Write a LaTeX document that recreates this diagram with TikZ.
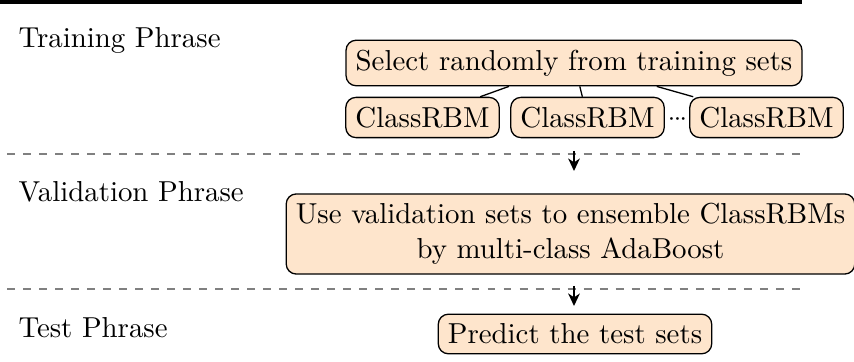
\documentclass[tikz,border=0pt]{standalone}
\usetikzlibrary{arrows.meta}
\definecolor{boxfill}{RGB}{254,229,204}
\tikzset{
  stagebox/.style={draw=black, fill=boxfill, rounded corners=3.5pt, line width=0.45pt, inner sep=3.333pt, font=\fontsize{10}{12}\selectfont},
  phaselabel/.style={anchor=base west, inner sep=0pt, font=\fontsize{10}{12}\selectfont},
  sepline/.style={gray, line width=0.8pt, dash pattern=on 2.75pt off 2.8pt},
  flowarrow/.style={line width=0.9pt, -{Stealth[length=4.3pt,width=4pt,inset=1.3pt]}},
  link/.style={line width=0.45pt}
}
\begin{document}
\begin{tikzpicture}[x=0.3465pt,y=-0.3465pt]
\useasboundingbox (0,0) rectangle (854,362);
% rules
\coordinate (topL) at (0,2);
\coordinate (topR) at (802,2);
\draw[line width=1.5pt] (topL) -- (topR);
\coordinate (d1L) at (7,154);
\coordinate (d1R) at (800,154);
\coordinate (d2L) at (7,289);
\coordinate (d2R) at (800,289);
\draw[sepline] (d1L) -- (d1R);
\draw[sepline] (d2L) -- (d2R);
% phase labels
\node[phaselabel] (lt) at (18,48) {Training Phrase};
\node[phaselabel] (lv) at (18,202) {Validation Phrase};
\node[phaselabel] (ls) at (18,338) {Test Phrase};
% training
\node[stagebox] (sel) at (574,63) {Select randomly from training sets};
\node[stagebox] (c1) at (422.5,117.5) {ClassRBM};
\node[stagebox] (c2) at (587.5,117.5) {ClassRBM};
\node[stagebox] (c3) at (766.5,117.5) {ClassRBM};
\node[inner sep=0pt, anchor=base] (dots) at (677.5,126) {\fontsize{9}{11}\selectfont${\cdot}\kern-0.55pt{\cdot}\kern-0.55pt{\cdot}$};
\draw[link] (sel) -- (c1);
\draw[link] (sel) -- (c2);
\draw[link] (sel) -- (c3);
% validation
\node[stagebox, align=center] (val) at (570.5,234) {Use validation sets to ensemble ClassRBMs\\by multi-class AdaBoost};
% test
\node[stagebox] (pred) at (575,334) {Predict the test sets};
% arrows
\coordinate (a1s) at (574,151);
\coordinate (a1e) at (574,171);
\coordinate (a2s) at (574,286);
\coordinate (a2e) at (574,306);
\draw[flowarrow] (a1s) -- (a1e);
\draw[flowarrow] (a2s) -- (a2e);
\end{tikzpicture}
\end{document}
